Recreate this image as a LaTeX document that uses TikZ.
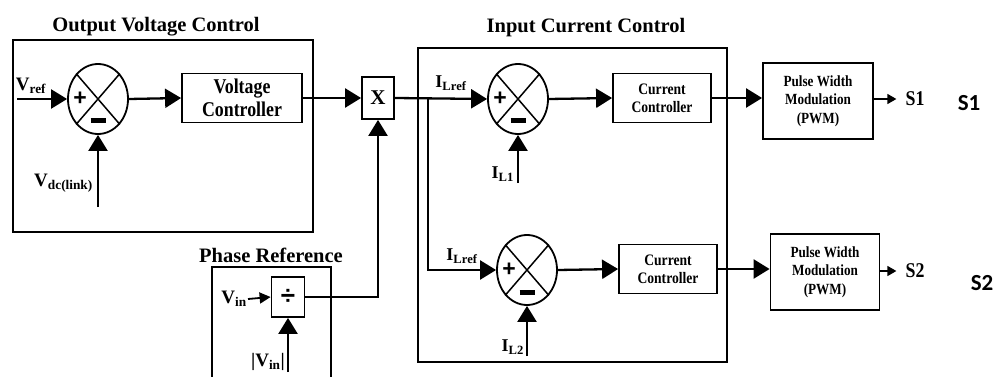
\documentclass[tikz,border=0pt]{standalone}
\usepackage{fontspec}
\setmainfont{Liberation Serif}
\newfontfamily\condserif[FakeStretch=0.85]{Liberation Serif}
\newfontfamily\calibri{Carlito}
\newfontfamily\signfont{Liberation Sans}
\usetikzlibrary{arrows.meta,positioning,shapes.geometric}

\begin{document}
\begin{tikzpicture}[x=1pt,y=-1pt,
  blk/.style={draw,line width=1.8pt,align=center,inner sep=2pt,font=\condserif\bfseries},
  sumnode/.style={ellipse,draw,line width=1.8pt,minimum width=60pt,minimum height=70pt,inner sep=0pt},
  sig/.style={line width=2.3pt,-{Triangle[length=16pt,width=19pt]}},
  thinsig/.style={line width=1.8pt,-{Triangle[length=11pt,width=11pt]}},
  outsig/.style={line width=1.5pt,-{Triangle[length=9pt,width=10pt]},shorten >=9pt},
  frame/.style={line width=1.4pt},
  ttl/.style={anchor=base,font=\bfseries\fontsize{20.5}{23}\selectfont},
  lbl/.style={inner sep=1pt,font=\bfseries\fontsize{19}{21}\selectfont}]
\useasboundingbox (0,0) rectangle (1003,377);

% control frames
\draw[frame] (13,40) rectangle (313,232);
\draw[frame] (418,48) rectangle (727,362);
\draw[frame] (212,377) -- (212,267) -- (331,267) -- (331,377);
\node[ttl] (ovctitle) at (156,32) {Output Voltage Control};
\node[ttl] (icctitle) at (586,33) {Input Current Control};
\node[ttl] (phrtitle) at (271,262) {Phase Reference};

% blocks
\node[sumnode] (sum1) at (98,99) {};
\node[blk,minimum width=120pt,minimum height=49pt,font=\condserif\bfseries\fontsize{21}{23}\selectfont] (vc) at (242,98) {Voltage\\Controller};
\node[blk,minimum width=32pt,minimum height=42pt,font=\bfseries\fontsize{21}{23}\selectfont] (mult) at (378,98) {X};
\node[sumnode] (sum2) at (518,99) {};
\node[blk,minimum width=98pt,minimum height=49pt,font=\condserif\bfseries\fontsize{16}{18}\selectfont] (cc1) at (662,98) {Current\\Controller};
\node[blk,minimum width=110pt,minimum height=76pt,font=\condserif\bfseries\fontsize{15.5}{18.3}\selectfont] (pwm1) at (818,101) {Pulse Width\\Modulation\\(PWM)};
\node[sumnode] (sum3) at (527,270) {};
\node[blk,minimum width=98pt,minimum height=49pt,font=\condserif\bfseries\fontsize{16}{18}\selectfont] (cc2) at (668,269) {Current\\Controller};
\node[blk,minimum width=109pt,minimum height=76pt,font=\condserif\bfseries\fontsize{15.5}{18.3}\selectfont] (pwm2) at (825,272) {Pulse Width\\Modulation\\(PWM)};
\node[blk,minimum width=33pt,minimum height=40pt,inner sep=0pt,font=\signfont\bfseries\fontsize{26}{26}\selectfont] (div) at (288,297) {÷};

% signs in the summing junctions
\foreach \s in {sum1,sum2,sum3} {
  \draw[line width=1.5pt] (\s.north west) -- (\s.south east) (\s.north east) -- (\s.south west);
  \node[inner sep=0pt,font=\signfont\bfseries\fontsize{23}{23}\selectfont] (\s-plus) at ([xshift=-18pt]\s.center) {+};
  \node[inner sep=0pt] (\s-minus) at ([yshift=-22pt]\s.center) {\rule{15pt}{5pt}};
}

% outputs
\node[font=\condserif\bfseries\fontsize{21}{23}\selectfont,inner sep=0pt] (s1) at (915,99) {S1};
\node[font=\condserif\bfseries\fontsize{21}{23}\selectfont,inner sep=0pt] (s2) at (915,271) {S2};
\node[font=\calibri\bfseries\fontsize{23}{25}\selectfont] (s1b) at (969,103) {S1};
\node[font=\calibri\bfseries\fontsize{23}{25}\selectfont] (s2b) at (982,283) {S2};

% input labels
\node[lbl] (vreflbl) at (31,86) {V\textsubscript{ref}};
\node[lbl,anchor=east] (vdclbl) at (94,183) {V\textsubscript{dc(link)}};
\node[lbl,font=\bfseries\fontsize{18}{20}\selectfont] (ilref1lbl) at (451,83) {I\textsubscript{Lref}};
\node[lbl,font=\bfseries\fontsize{18}{20}\selectfont,anchor=east] (il1lbl) at (515,174) {I\textsubscript{L1}};
\node[lbl,font=\bfseries\fontsize{18}{20}\selectfont] (ilref2lbl) at (462,256) {I\textsubscript{Lref}};
\node[lbl,font=\bfseries\fontsize{18}{20}\selectfont,anchor=east] (il2lbl) at (525,347) {I\textsubscript{L2}};
\node[lbl,anchor=east] (vinlbl) at (248,299) {V\textsubscript{in}};
\node[lbl,anchor=east] (vabslbl) at (286,362) {|V\textsubscript{in}|};

\coordinate (vref) at (17,99);
\coordinate (vdc) at (98,207);
\coordinate (br) at (428,99);
\coordinate (il1) at (518,183);
\coordinate (il2) at (527,356);
\coordinate (vabs) at (288,372);

% connectors
\draw[sig] (vref) -- (sum1.west);
\draw[sig] (vdc) -- (sum1.south);
\draw[sig] (sum1.east) -- (vc.west);
\draw[sig] (vc.east) -- (mult.west);
\draw[sig] (mult.east) -- (sum2.west);
\draw[sig] (br) |- (sum3.west);
\draw[sig] (il1) -- (sum2.south);
\draw[sig] (sum2.east) -- (cc1.west);
\draw[sig] (cc1.east) -- (cc1.east -| pwm1.west);
\draw[outsig] (pwm1.east |- s1) -- (s1.west);
\draw[sig] (il2) -- (sum3.south);
\draw[sig] (sum3.east) -- (cc2.west);
\draw[sig] (cc2.east) -- (cc2.east -| pwm2.west);
\draw[outsig] (pwm2.east |- s2) -- (s2.west);
\draw[thinsig] (vinlbl.east) -- (div.west);
\draw[sig] (vabs) -- (div.south);
\draw[sig] (div.east) -| (mult.south);
\end{tikzpicture}
\end{document}
